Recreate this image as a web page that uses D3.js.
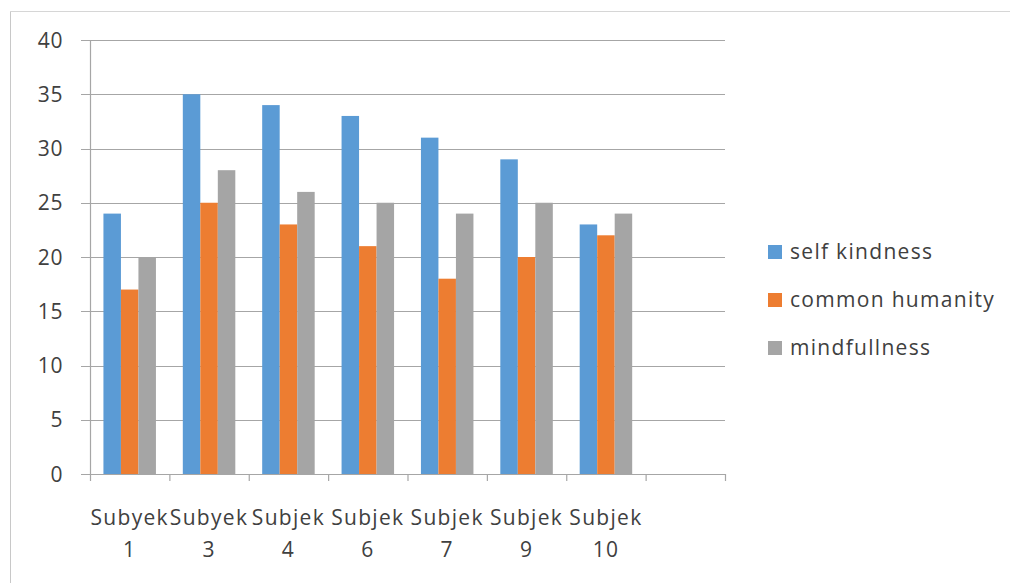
<!DOCTYPE html>
<html>
<head>
<meta charset="utf-8">
<script src="https://cdn.jsdelivr.net/npm/d3@7"></script>
<style>
  html, body { margin: 0; padding: 0; background: #fff; }
  svg { display: block; }
  text { font-family: "Open Sans", Lato, sans-serif; fill: #404040; }
</style>
</head>
<body>
<svg id="chart" width="1010" height="583"></svg>
<script>
const categories = ["Subyek 1", "Subyek 3", "Subjek 4", "Subjek 6", "Subjek 7", "Subjek 9", "Subjek 10", ""];
const seriesNames = ["self kindness", "common humanity", "mindfullness"];
const selfKindness = [24, 35, 34, 33, 31, 29, 23];
const commonHumanity = [17, 25, 23, 21, 18, 20, 22];
const mindfullness = [20, 28, 26, 25, 24, 25, 24];
const yTicks = [0, 5, 10, 15, 20, 25, 30, 35, 40];
const colors = ["#5B9BD5", "#ED7D31", "#A5A5A5"];

const seriesValues = [selfKindness, commonHumanity, mindfullness];

const svg = d3.select("#chart");

// outer frame
svg.append("line").attr("x1", 10.5).attr("x2", 10.5).attr("y1", 11).attr("y2", 583)
  .attr("stroke", "#c8c8c8").attr("stroke-width", 1);
svg.append("line").attr("x1", 10).attr("x2", 1010).attr("y1", 11.5).attr("y2", 11.5)
  .attr("stroke", "#d6d6d6").attr("stroke-width", 1);

const pLeft = 90, pRight = 725, pTop = 40, pBottom = 474;

const x0 = d3.scaleBand().domain(d3.range(categories.length)).range([pLeft, pRight]).paddingInner(0).paddingOuter(0);
const y = d3.scaleLinear().domain([0, 40]).range([pBottom, pTop]);
const barW = 17.5;
const groupW = barW * 3;

// gridlines
svg.append("g").selectAll("line").data(yTicks).join("line")
  .attr("x1", pLeft - 9).attr("x2", pRight)
  .attr("y1", d => Math.round(y(d)) + 0.5).attr("y2", d => Math.round(y(d)) + 0.5)
  .attr("stroke", "#a6a6a6").attr("stroke-width", 1.2);

// y axis line
svg.append("line").attr("x1", pLeft + 0.5).attr("x2", pLeft + 0.5).attr("y1", pTop).attr("y2", pBottom)
  .attr("stroke", "#a6a6a6").attr("stroke-width", 1.2);

// y tick labels
svg.append("g").selectAll("text").data(yTicks).join("text")
  .attr("x", 63).attr("y", d => y(d))
  .attr("dy", "0.36em")
  .attr("text-anchor", "end")
  .attr("font-size", 21)
  .attr("letter-spacing", "0.6px")
  .text(d => d);

// bars
const groups = svg.append("g").selectAll("g").data(seriesValues).join("g")
  .attr("fill", (d, i) => colors[i]);
groups.each(function(vals, si) {
  d3.select(this).selectAll("rect").data(vals).join("rect")
    .attr("x", (v, ci) => x0(ci) + x0.bandwidth() / 2 - groupW / 2 + si * barW)
    .attr("width", barW)
    .attr("y", v => y(v))
    .attr("height", v => y(0) - y(v));
});

// x axis
svg.append("line").attr("x1", pLeft).attr("x2", pRight).attr("y1", pBottom + 0.5).attr("y2", pBottom + 0.5)
  .attr("stroke", "#a6a6a6").attr("stroke-width", 1.2);
const tickPositions = d3.range(categories.length + 1).map(i => i < categories.length ? x0(i) : pRight);
svg.append("g").selectAll("line").data(tickPositions).join("line")
  .attr("x1", d => d + 0.5).attr("x2", d => d + 0.5)
  .attr("y1", pBottom).attr("y2", pBottom + 7)
  .attr("stroke", "#a6a6a6").attr("stroke-width", 1.2);

// x labels (two lines)
const xl = svg.append("g").selectAll("text").data(categories).join("text")
  .attr("text-anchor", "middle")
  .attr("font-size", 21)
  .attr("letter-spacing", "1.3px");
xl.each(function(c, i) {
  const parts = c.split(" ");
  const t = d3.select(this);
  const cx = x0(i) + x0.bandwidth() / 2;
  parts.forEach((p, k) => {
    t.append("tspan").attr("x", cx).attr("y", 525 + k * 32).text(p);
  });
});

// legend
const lg = svg.append("g").selectAll("g").data(seriesNames).join("g")
  .attr("transform", (d, i) => `translate(768, ${252 + i * 48})`);
lg.append("rect").attr("x", 0).attr("y", -7).attr("width", 14).attr("height", 14)
  .attr("fill", (d, i) => colors[i]);
lg.append("text").attr("x", 22).attr("y", 0).attr("dy", "0.35em")
  .attr("font-size", 21)
  .attr("letter-spacing", "1.3px")
  .text(d => d);
</script>
</body>
</html>
